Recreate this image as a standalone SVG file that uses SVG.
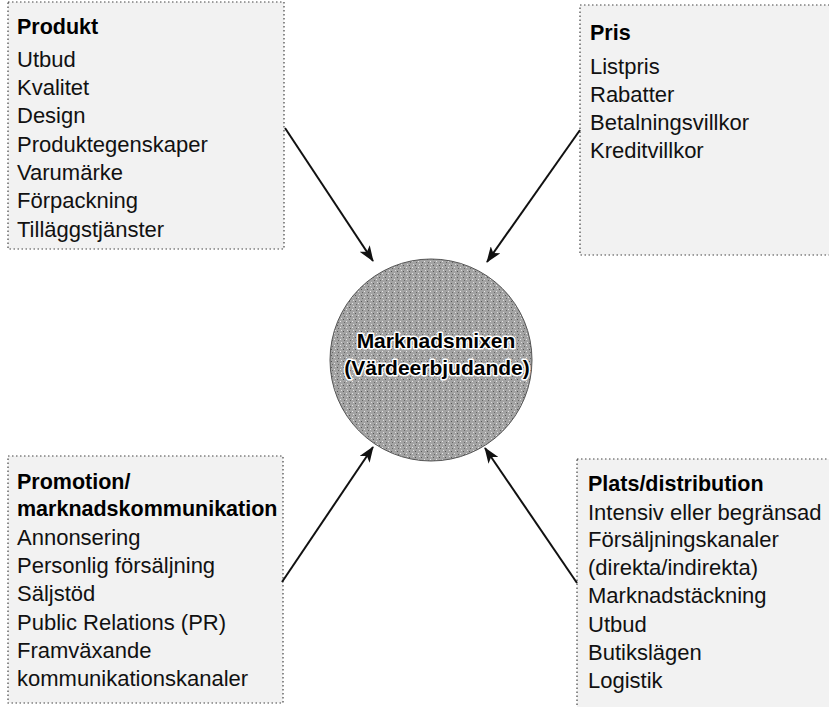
<svg xmlns="http://www.w3.org/2000/svg" width="829" height="707" viewBox="0 0 829 707">
<defs>
<style>
.box{fill:#f2f2f2;stroke:#444;stroke-width:1.2;stroke-dasharray:1.5 2.5}
.t{font-family:"Liberation Sans",Arial,sans-serif;font-size:22px;fill:#111}
.h{font-family:"Liberation Sans",Arial,sans-serif;font-size:21.5px;font-weight:bold;fill:#000}
.c{font-family:"Liberation Sans",Arial,sans-serif;font-size:21px;font-weight:bold;fill:#000;text-anchor:middle;stroke:#fff;stroke-width:3;paint-order:stroke;stroke-linejoin:round}
.arr{stroke:#111;stroke-width:2;fill:none;marker-end:url(#ah)}
</style>
<marker id="ah" viewBox="0 0 16 12" refX="15" refY="6" markerWidth="16" markerHeight="12" orient="auto" markerUnits="userSpaceOnUse">
<path d="M0,0 L16,6 L0,12 L4,6 Z" fill="#111"/>
</marker>
<pattern id="stip" width="6" height="6" patternUnits="userSpaceOnUse">
<rect width="6" height="6" fill="#a3a3a3"/>
<rect x="1" y="1" width="1" height="1" fill="#555"/>
<rect x="4" y="3" width="1" height="1" fill="#e6e6e6"/>
<rect x="2" y="4" width="1" height="1" fill="#666"/>
<rect x="5" y="0" width="1" height="1" fill="#ddd"/>
</pattern>
</defs>

<g id="produkt">
<rect class="box" x="8" y="2" width="276" height="247"/>
<text class="h" x="17" y="34">Produkt</text>
<text class="t" x="17" y="67">Utbud</text>
<text class="t" x="17" y="95">Kvalitet</text>
<text class="t" x="17" y="123">Design</text>
<text class="t" x="17" y="152">Produktegenskaper</text>
<text class="t" x="17" y="180">Varumärke</text>
<text class="t" x="17" y="208">Förpackning</text>
<text class="t" x="17" y="237">Tilläggstjänster</text>
</g>

<g id="pris">
<rect class="box" x="580" y="5" width="252" height="250"/>
<text class="h" x="590" y="40">Pris</text>
<text class="t" x="590" y="74">Listpris</text>
<text class="t" x="590" y="102">Rabatter</text>
<text class="t" x="590" y="130">Betalningsvillkor</text>
<text class="t" x="590" y="158">Kreditvillkor</text>
</g>

<g id="promotion">
<rect class="box" x="8" y="456" width="275" height="247"/>
<text class="h" x="17" y="489">Promotion/</text>
<text class="h" x="17" y="516">marknadskommunikation</text>
<text class="t" x="17" y="545">Annonsering</text>
<text class="t" x="17" y="573">Personlig försäljning</text>
<text class="t" x="17" y="601">Säljstöd</text>
<text class="t" x="17" y="630">Public Relations (PR)</text>
<text class="t" x="17" y="658">Framväxande</text>
<text class="t" x="17" y="686">kommunikationskanaler</text>
</g>

<g id="plats">
<rect class="box" x="577" y="459" width="255" height="252"/>
<text class="h" x="588" y="491">Plats/distribution</text>
<text class="t" x="588" y="520">Intensiv eller begränsad</text>
<text class="t" x="588" y="547">Försäljningskanaler</text>
<text class="t" x="588" y="575">(direkta/indirekta)</text>
<text class="t" x="588" y="603">Marknadstäckning</text>
<text class="t" x="588" y="632">Utbud</text>
<text class="t" x="588" y="660">Butikslägen</text>
<text class="t" x="588" y="688">Logistik</text>
</g>

<g id="mix">
<circle cx="431" cy="360" r="101" fill="url(#stip)" stroke="#555" stroke-width="1"/>
<text class="c" x="436" y="348">Marknadsmixen</text>
<text class="c" x="437" y="375">(Värdeerbjudande)</text>
</g>

<g id="connectors">
<line class="arr" x1="285" y1="128" x2="373" y2="261"/>
<line class="arr" x1="580" y1="130" x2="487" y2="262"/>
<line class="arr" x1="282" y1="582" x2="373" y2="447"/>
<line class="arr" x1="577" y1="583" x2="485" y2="448"/>
</g>
</svg>
